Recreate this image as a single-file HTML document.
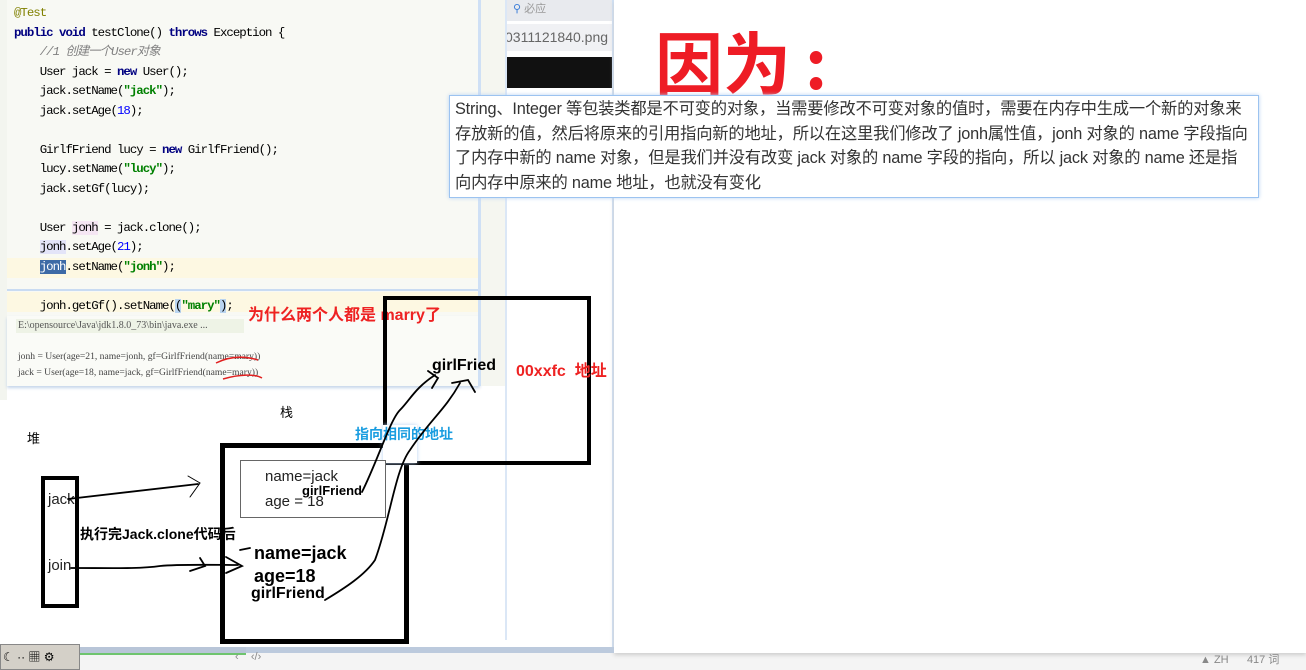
<!DOCTYPE html>
<html><head><meta charset="utf-8">
<style>
*{margin:0;padding:0;box-sizing:border-box}
html,body{width:1306px;height:670px;overflow:hidden}
body{background:#f4f4f4;position:relative;font-family:"Liberation Sans","Noto Sans CJK SC",sans-serif}
.a{position:absolute}
.code{font-family:"Liberation Mono","DejaVu Sans Mono",monospace;font-size:12.4px;letter-spacing:-1px;color:#000;white-space:pre;line-height:19.5px}
.kw{color:#000080;font-weight:bold}
.str{color:#008000;font-weight:bold}
.num{color:#0000ff}
.cm{color:#808080;font-style:italic}
.tl{white-space:nowrap;height:24.6px}
</style></head><body>
<!-- left panel -->
<div class="a" style="left:0;top:0;width:613px;height:647px;background:#fff"></div>
<div class="a" style="left:0;top:0;width:7px;height:400px;background:#f3f5ef"></div>
<div class="a" style="left:7px;top:0;width:473px;height:316px;background:#f8f9f4"></div>
<div class="a" style="left:7px;top:258px;width:473px;height:20px;background:#fdf8e2"></div>
<div class="a" style="left:7px;top:292px;width:473px;height:20px;background:#fdf8e2"></div>
<div class="a" style="left:7px;top:289px;width:473px;height:2px;background:#c9dbf2"></div>
<div class="a" style="left:7px;top:316px;width:473px;height:70px;background:#fafbf7;box-shadow:0 2px 3px #c5d5ea"></div>
<div class="a" style="left:478px;top:0;width:3px;height:386px;background:#cfe0f5"></div>
<div class="a" style="left:481px;top:0;width:24px;height:386px;background:#f5f6f0"></div>
<div class="a" style="left:505px;top:0;width:108px;height:96px;background:#fff"></div>
<div class="a" style="left:505px;top:0;width:108px;height:21px;background:#e8eaee;font-size:11px;color:#999;line-height:19px;padding-left:8px"><span style="color:#3b7dd8">&#9906;</span> 必应</div>
<div class="a" style="left:505px;top:24px;width:108px;height:27px;background:#f0f1f4;font-size:14px;color:#666;line-height:27px;overflow:hidden;white-space:nowrap">0311121840.png</div>
<div class="a" style="left:505px;top:57px;width:108px;height:31px;background:#111"></div>
<div class="a" style="left:505px;top:0;width:2px;height:640px;background:#dbe7f6"></div>
<div class="a" style="left:612px;top:0;width:2px;height:653px;background:#cfe0f5"></div>

<div class="a code" style="left:14px;top:4px"><span style="color:#808000">@Test</span>
<span class="kw">public void</span> testClone() <span class="kw">throws</span> Exception {
    <span class="cm">//1 创建一个User对象</span>
    User jack = <span class="kw">new</span> User();
    jack.setName(<span class="str">"jack"</span>);
    jack.setAge(<span class="num">18</span>);

    GirlfFriend lucy = <span class="kw">new</span> GirlfFriend();
    lucy.setName(<span class="str">"lucy"</span>);
    jack.setGf(lucy);

    User <span style="background:#f5e6f3">jonh</span> = jack.clone();
    <span style="background:#e3e4f8">jonh</span>.setAge(<span class="num">21</span>);
    <span style="background:#3d6aa6;color:#fff">jonh</span>.setName(<span class="str">"jonh"</span>);

    jonh.getGf().setName(<span style="background:#b9d4f0">(</span><span class="str">"mary"</span><span style="background:#b9d4f0">)</span>;</div>
<div class="a" style="left:16px;top:319px;width:228px;height:14px;background:#eef3e6"></div>
<div class="a" style="left:18px;top:319px;font-family:'Liberation Serif',serif;font-size:10px;color:#555;white-space:pre;line-height:14px">E:\opensource\Java\jdk1.8.0_73\bin\java.exe ...</div>
<div class="a" style="left:18px;top:349px;font-family:'Liberation Serif',serif;font-size:9.6px;color:#444;white-space:pre;line-height:16px">jonh = User(age=21, name=jonh, gf=GirlfFriend(name=mary))
jack = User(age=18, name=jack, gf=GirlfFriend(name=mary))</div>
<svg class="a" style="left:0;top:0" width="620" height="400"><g fill="none" stroke="#e02020" stroke-width="1.5"><path d="M216 363 C230 356 245 356 258 360"/><path d="M223 379 C240 374 255 374 262 378"/></g></svg>
<div class="a" style="left:248px;top:301px;color:#ee2222;font-weight:bold;font-size:16px">为什么两个人都是 marry了</div>

<!-- right -->
<div class="a" style="left:614px;top:0;width:692px;height:653px;background:#fff;box-shadow:0 2px 4px #ccc"></div>
<div class="a" style="left:655px;top:20px;color:#ee1c25;font-weight:bold;font-size:68px;line-height:80px;font-family:'Noto Sans CJK SC',sans-serif;white-space:nowrap">因为<span style="margin-left:14px">:</span></div>
<div class="a" style="left:449px;top:95px;width:810px;height:103px;background:#fff;border:1px solid #9cc3f0;box-shadow:0 0 4px #b8d3f3;padding:1px 0 0 5px;font-size:16.3px;line-height:24.6px;color:#333;letter-spacing:-0.2px">
<div class="tl">String、Integer 等包装类都是不可变的对象，当需要修改不可变对象的值时，需要在内存中生成一个新的对象来</div>
<div class="tl">存放新的值，然后将原来的引用指向新的地址，所以在这里我们修改了 jonh属性值，jonh 对象的 name 字段指向</div>
<div class="tl">了内存中新的 name 对象，但是我们并没有改变 jack 对象的 name 字段的指向，所以 jack 对象的 name 还是指</div>
<div class="tl">向内存中原来的 name 地址，也就没有变化</div>
</div>

<!-- diagram -->
<div class="a" style="left:383px;top:296px;width:208px;height:169px;border:4px solid #000"></div>
<div class="a" style="left:432px;top:357px;font-weight:bold;font-size:16px">girlFried</div>
<div class="a" style="left:516px;top:357px;font-weight:bold;font-size:16px;color:#ee2222">00xxfc&nbsp; 地址</div>
<div class="a" style="left:280px;top:402px;font-size:13px">栈</div>
<div class="a" style="left:27px;top:428px;font-size:13px">堆</div>
<div class="a" style="left:220px;top:443px;width:189px;height:201px;border:5px solid #000;background:transparent"></div>
<div class="a" style="left:383px;top:425px;width:34px;height:38px;background:#fff;box-shadow:0 0 4px #b8d3f3"></div>
<div class="a" style="left:355px;top:424px;font-weight:bold;font-size:14px;color:#1a9de0">指向相同的地址</div>
<div class="a" style="left:240px;top:460px;width:146px;height:58px;border:1px solid #666;background:#fff"></div>
<div class="a" style="left:265px;top:468px;font-size:15px;color:#222">name=jack</div>
<div class="a" style="left:302px;top:483px;font-size:13px;font-weight:bold">girlFriend</div>
<div class="a" style="left:265px;top:493px;font-size:15px;color:#222">age = 18</div>
<div class="a" style="left:41px;top:476px;width:38px;height:132px;border:4px solid #000"></div>
<div class="a" style="left:48px;top:491px;font-size:15px;color:#222">jack</div>
<div class="a" style="left:48px;top:557px;font-size:15px;color:#222">join</div>
<div class="a" style="left:80px;top:524px;font-size:14px;font-weight:bold">执行完Jack.clone代码后</div>
<div class="a" style="left:254px;top:543px;font-size:18px;font-weight:bold">name=jack</div>
<div class="a" style="left:254px;top:566px;font-size:18px;font-weight:bold">age=18</div>
<div class="a" style="left:251px;top:585px;font-size:16px;font-weight:bold">girlFriend</div>

<svg class="a" style="left:0;top:0" width="1306" height="670">
<g fill="none" stroke="#000" stroke-width="1.8" stroke-linecap="round">
<path d="M68 499 L198 484"/>
<path d="M188 476 L200 483 L190 497" stroke-width="1"/>
<path d="M71 568 C110 568 140 569 160 566 C180 564 220 565 238 565"/>
<path d="M190 571 L205 566 L200 558" />
<path d="M226 557 L242 566 L226 573"/>
<path d="M240 550 L250 548"/>
<path d="M362 492 C378 460 390 420 400 410 C410 400 415 388 435 375"/>
<path d="M428 371 L438 378 L432 388"/>
<path d="M325 600 C345 588 365 575 375 560 C390 520 395 470 410 450 C430 420 445 410 460 383"/>
<path d="M452 383 L468 380 L475 392"/>
</g>
</svg>

<!-- bottom -->
<div class="a" style="left:0;top:647px;width:246px;height:6px;background:#b8c5d8"></div>
<div class="a" style="left:0;top:653px;width:246px;height:2px;background:#6ec46e"></div>
<div class="a" style="left:246px;top:647px;width:368px;height:6px;background:#bccadd"></div>
<div class="a" style="left:0;top:644px;width:80px;height:26px;background:#d4d0c8;border:1px solid #888;font-size:12px;line-height:24px;white-space:nowrap;overflow:hidden;padding-left:2px">☾ ·· ▦ ⚙</div>
<div class="a" style="left:235px;top:651px;font-size:11px;color:#888;white-space:nowrap">‹&nbsp;&nbsp;&nbsp; ‹/›</div>
<div class="a" style="left:1200px;top:651px;font-size:11px;color:#888;white-space:nowrap">▲ ZH&nbsp;&nbsp;&nbsp;&nbsp;&nbsp; 417 词</div>
</body></html>
